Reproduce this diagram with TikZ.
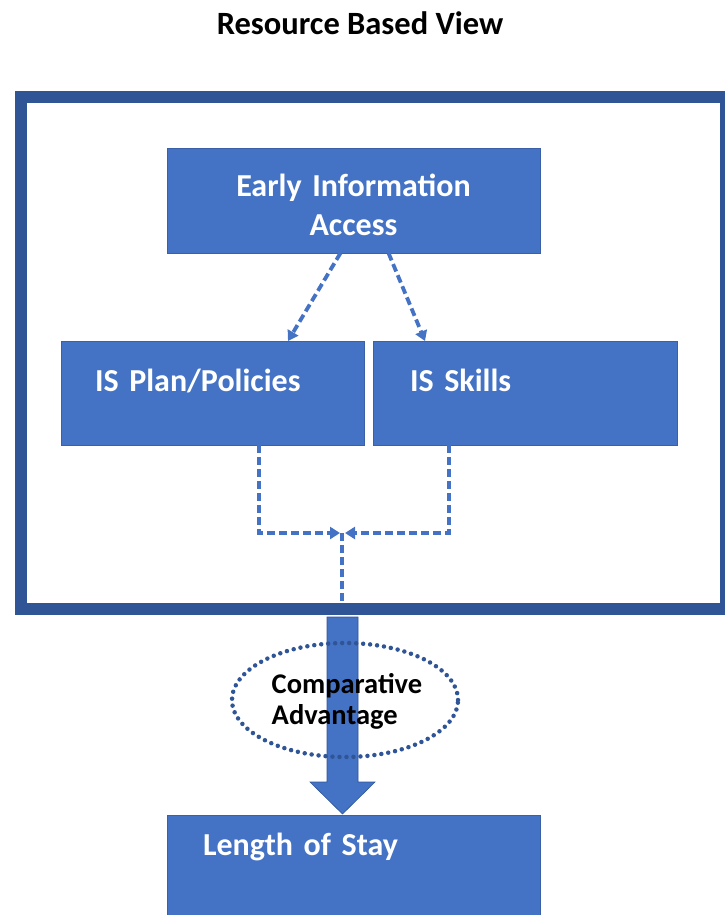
\documentclass[tikz,border=0pt]{standalone}
\usepackage{fontspec}
\setmainfont{Carlito}
\usetikzlibrary{arrows.meta,shapes.geometric}
\definecolor{boxblue}{HTML}{4472C4}
\definecolor{frameblue}{HTML}{2F5597}

\begin{document}
\begin{tikzpicture}[x=1pt, y=-1pt, every node/.style={inner sep=0pt, outer sep=0pt}, line join=miter]
	\tikzstyle{box} = [fill=boxblue, draw=boxblue!85!black, line width=0.5pt, text=white, font=\fontsize{32}{39}\selectfont\bfseries, anchor=north west]
	\tikzstyle{flow} = [draw=boxblue, line width=3.8pt, dash pattern=on 8pt off 4pt, -{Triangle[width=12pt,length=10pt]}]
	\tikzstyle{rim} = [draw=frameblue, line width=12pt]
	\useasboundingbox (0,0) rectangle (725,915);
	\node[font=\fontsize{32.5}{38}\selectfont\bfseries] (title) at (360,23) {Resource Based View};
	% outer frame
	\draw[rim] (20.5,97) rectangle (726,609);
	% boxes
	\node[box, text width=373pt, text height=48pt, text depth=57pt, align=center] (early) at (167,148) {Early Information\\Access};
	\node[box, text width=235pt, inner xsep=34pt, text height=50pt, text depth=54pt, align=left] (plan) at (61,341) {IS Plan/Policies};
	\node[box, text width=230pt, inner xsep=37pt, text height=50pt, text depth=54pt, align=left] (skills) at (373,341) {IS Skills};
	\node[box, text width=301pt, inner xsep=36pt, text height=40pt, text depth=70pt, align=left] (stay) at (167,815) {Length of Stay};
	% dashed links
	\coordinate (join) at (342,533);
	\coordinate (rimin) at (342,602);
	\draw[flow] ([xshift=-13pt]early.south) -- ([xshift=-76pt]plan.north east);
	\draw[flow] ([xshift=35pt]early.south) -- ([xshift=52pt]skills.north west);
	\draw[flow] ([xshift=-105pt]plan.south east) |- ([xshift=-2pt]join);
	\draw[flow] ([xshift=76pt]skills.south west) |- ([xshift=3pt]join);
	\draw[flow, -] (join) -- (rimin);
	% block arrow
	\coordinate (bigtop) at (342.5,617);
	\coordinate (bigtip) at (342.5,814);
	\draw[fill=boxblue, draw=frameblue, line width=0.6pt] ([xshift=-15.5pt]bigtop) -- ([xshift=15.5pt]bigtop) -- ([xshift=15.5pt, yshift=32pt]bigtip) -- ([xshift=32.5pt, yshift=32pt]bigtip) -- (bigtip) -- ([xshift=-32.5pt, yshift=32pt]bigtip) -- ([xshift=-15.5pt, yshift=32pt]bigtip) -- cycle;
	\node[ellipse, draw=frameblue, line width=4.5pt, dash pattern=on 0pt off 7pt, line cap=round, minimum width=226pt, minimum height=114pt] (adv) at (345,700) {};
	\node[font=\fontsize{28.5}{31}\selectfont\bfseries, align=left] (advtext) at (347,701) {Comparative\\Advantage};
\end{tikzpicture}
\end{document}
